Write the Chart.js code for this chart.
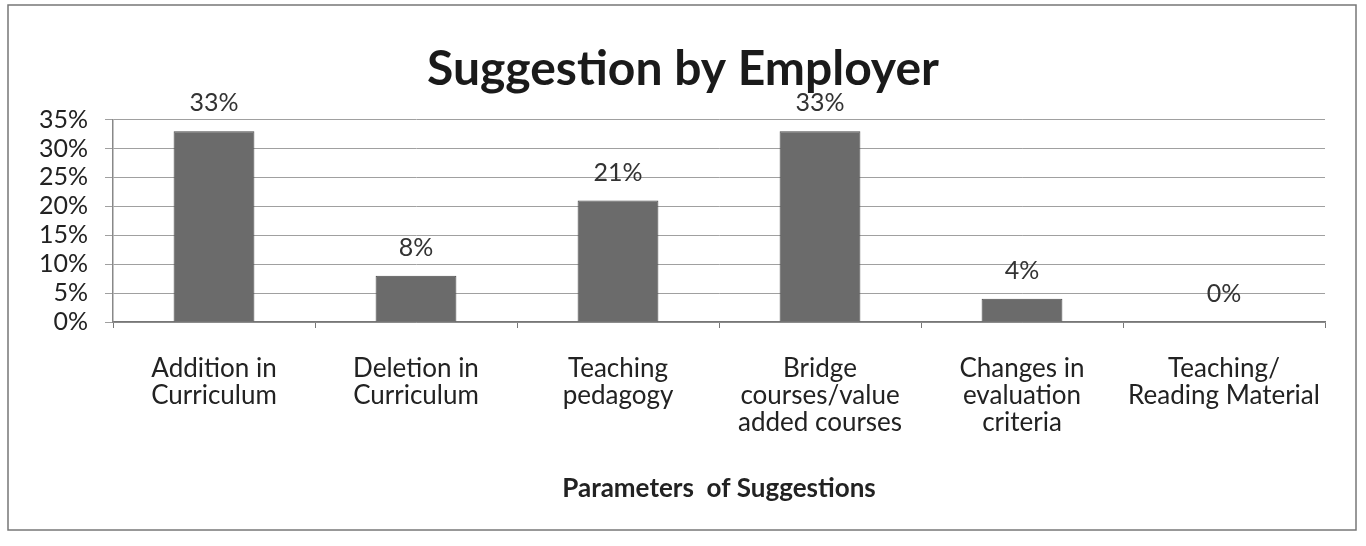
<!DOCTYPE html>
<html>
<head>
<meta charset="utf-8">
<script src="https://cdn.jsdelivr.net/npm/chart.js@4.4.0/dist/chart.umd.min.js"></script>
<style>
  html, body { margin: 0; padding: 0; background: #fff; }
  #wrap { width: 1366px; height: 546px; }
</style>
</head>
<body>
<div id="wrap"><canvas id="employerChart" width="1366" height="546"></canvas></div>
<script>
// ---- data ----
const categories = [
  ['Addition in', 'Curriculum'],
  ['Deletion in', 'Curriculum'],
  ['Teaching', 'pedagogy'],
  ['Bridge', 'courses/value', 'added courses'],
  ['Changes in', 'evaluation', 'criteria'],
  ['Teaching/', 'Reading Material']
];
const percentValues = [33, 8, 21, 33, 4, 0];
const yMax = 35;
const yStep = 5;

const FONT = 'Lato, "Open Sans", sans-serif';

// outer frame + white background
const framePlugin = {
  id: 'frame',
  beforeDraw(chart) {
    const ctx = chart.ctx;
    ctx.save();
    ctx.fillStyle = '#fff';
    ctx.fillRect(0, 0, chart.width, chart.height);
    ctx.strokeStyle = '#777';
    ctx.lineWidth = 1.5;
    ctx.strokeRect(8, 5, 1348, 525);
    ctx.restore();
  }
};

// value labels above bars
const valueLabels = {
  id: 'valueLabels',
  afterDatasetsDraw(chart) {
    const ctx = chart.ctx;
    const meta = chart.getDatasetMeta(0);
    ctx.save();
    ctx.font = '25px ' + FONT;
    ctx.fillStyle = '#333';
    ctx.textAlign = 'center';
    ctx.textBaseline = 'middle';
    meta.data.forEach((bar, i) => {
      ctx.fillText(percentValues[i] + '%', bar.x, bar.y - 28);
    });
    ctx.restore();
  }
};

new Chart(document.getElementById('employerChart'), {
  type: 'bar',
  data: {
    labels: categories,
    datasets: [{
      data: percentValues,
      backgroundColor: '#6b6b6b',
      borderColor: '#4a4a4a',
      borderWidth: 1,
      categoryPercentage: 0.8,
      barPercentage: 0.5
    }]
  },
  options: {
    responsive: false,
    animation: false,
    layout: { padding: { left: 0, right: 0, top: 0, bottom: 42 } },
    plugins: {
      legend: { display: false },
      tooltip: { enabled: false },
      title: {
        display: true,
        text: 'Suggestion by Employer',
        color: '#1a1a1a',
        font: { family: FONT, size: 48, weight: 'bold', lineHeight: 1.2 },
        padding: { top: 41, bottom: 21 }
      }
    },
    scales: {
      x: {
        grid: {
          display: true,
          drawOnChartArea: false,
          drawTicks: true,
          tickLength: 6,
          offset: true,
          color: '#777'
        },
        border: { display: true, color: '#777', width: 1.5 },
        ticks: {
          color: '#222',
          font: { family: FONT, size: 26, lineHeight: 1.04 },
          padding: 27,
          maxRotation: 0,
          autoSkip: false
        },
        title: {
          display: true,
          text: 'Parameters  of Suggestions',
          color: '#222',
          font: { family: FONT, size: 26, weight: 'bold' },
          padding: { top: 16, bottom: 0 }
        },
        afterFit(scale) { scale.height = 182; }
      },
      y: {
        min: 0,
        max: yMax,
        grid: {
          color: '#a0a0a0',
          lineWidth: 1,
          tickLength: 8
        },
        border: { display: true, color: '#888', width: 1.5 },
        ticks: {
          stepSize: yStep,
          autoSkip: false,
          color: '#222',
          font: { family: FONT, size: 25 },
          padding: 17,
          callback: v => v + '%'
        },
        afterFit(scale) { scale.width = 113; }
      },
      // empty right-hand spacer so the title centres on the whole frame
      ySpacer: {
        position: 'right',
        min: 0,
        max: yMax,
        grid: { display: false, drawOnChartArea: false },
        border: { display: false },
        ticks: { display: false },
        afterFit(scale) { scale.width = 41; }
      }
    }
  },
  plugins: [framePlugin, valueLabels]
});
</script>
</body>
</html>
